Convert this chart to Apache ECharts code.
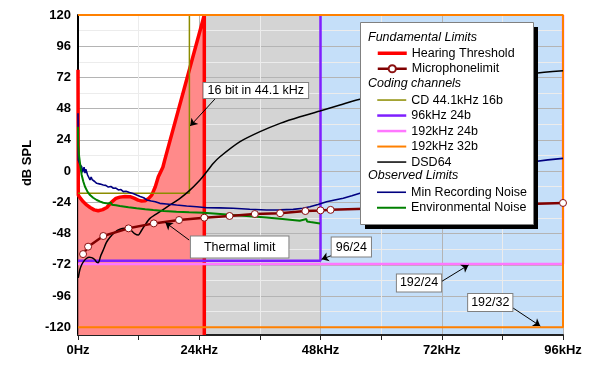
<!DOCTYPE html>
<html><head><meta charset="utf-8">
<script src="https://cdn.jsdelivr.net/npm/echarts@6/dist/echarts.min.js"></script>
<style>html,body{margin:0;padding:0;background:#fff}#c{width:600px;height:370px}</style>
</head><body><div id="c"></div>
<script>
// ---- data (x in kHz, y in dB SPL) ----
const seriesNames = ['Hearing Threshold','Microphonelimit','CD 44.1kHz 16b','96kHz 24b','192kHz 24b','192kHz 32b','DSD64','Min Recording Noise','Environmental Noise'];
const groupHeaders = ['Fundamental Limits','Coding channels','Observed Limits'];
const hearingThreshold = [[0,78],[0.06,-18.5],[0.5,-21],[1.05,-23.6],[1.7,-26],[2.4,-28],[3.2,-29.8],[4.0,-30.5],[4.9,-29.6],[5.7,-28],[6.7,-23.6],[7.5,-21],[8.3,-20],[9.3,-19.5],[10.3,-19.7],[11.1,-20.8],[11.9,-22.3],[12.6,-23],[13.3,-22.8],[14.0,-21],[14.6,-18.5],[15.3,-12],[15.9,-4.4],[16.8,3],[17.2,9],[25,120],[25,-126]];
const micX = [1,2,5,10,15,20,25,30,35,40,45,48,50,96];
const micY = [-63.8,-58.1,-49.9,-44,-40.2,-37.6,-35.8,-34.5,-33,-32.4,-30.7,-30.2,-29.8,-24.5];
const cd441 = [[0,-17],[22.05,-17],[22.05,120]];
const hr96_24 = [[0,-69],[48,-69],[48,120]];
const hr192_24 = [[0,-71.5],[96,-71.5],[96,120]];
const hr192_32 = [[0,-120],[96,-120],[96,120],[0,120]];
const dsd64 = [[0.05,-82],[0.35,-76],[0.73,-72],[1.2,-69],[1.72,-67],[2.2,-66.3],[2.71,-66.5],[3.3,-68],[3.7,-70],[4.02,-70.4],[4.5,-65],[5.0,-60.7],[5.6,-55],[6.33,-50.9],[7.3,-47],[8.31,-44.7],[9.2,-44],[9.96,-44.2],[10.5,-45.5],[11.2,-48],[11.94,-49.1],[12.6,-45.5],[13.26,-41.4],[14.25,-36.3],[16.23,-31.2],[18.21,-26],[20.19,-20.9],[21.83,-15.8],[24.15,-6.8],[25.47,-0.5],[26.8,6],[28.1,11],[32.07,22.6],[36.03,30.3],[40.0,36.7],[43.94,41.8],[47.9,46.2],[51.86,50.8],[55.17,54.7],[63.7,61],[73.6,67.5],[83.5,72.3],[90.06,75.2],[96,77.2]];
const minRecNoise = [[0,44.4],[0.03,20],[0.06,8.5],[0.4,5],[0.73,3.4],[0.9,-1],[1.05,-0.5],[1.2,3],[1.39,-1.5],[1.55,1.5],[1.72,0.8],[1.9,-3],[2.1,-2],[2.38,-6.8],[2.6,-4.5],[2.8,-6.5],[3.03,-5.5],[3.3,-8],[3.5,-7],[3.7,-9.4],[4.0,-8.5],[4.4,-10],[5.0,-10.7],[5.5,-11],[6.0,-12.3],[6.5,-11.8],[7.0,-13.2],[7.5,-13],[8.0,-14.5],[8.5,-14.2],[8.97,-15.8],[9.5,-15.5],[10.2,-16.5],[10.9,-17.2],[11.6,-18.4],[12.3,-19.5],[13.0,-20.5],[13.6,-22.2],[14.5,-23],[15.3,-23.5],[16.2,-24.8],[17.5,-25.3],[19.5,-26.1],[21.5,-26.8],[23.5,-27.4],[25.5,-28.2],[28,-28.3],[30.7,-28.6],[34,-29.3],[37.3,-29.9],[40,-29.8],[42.6,-29.4],[44.5,-28.6],[45.9,-27.4],[47.5,-25.6],[49.2,-23.5],[50.8,-22.2],[52.5,-20.9],[54.2,-19],[55.8,-17],[60,-13],[63.7,-9],[68,-5.5],[73.6,-2],[78,0.8],[83.5,3.5],[87,5.5],[90.1,7.2],[93,8.6],[96,9.8]];
const envNoise = [[0,34],[0.05,20],[0.2,12],[0.4,6],[0.73,-3],[1.05,-8],[1.39,-12],[1.9,-16],[2.38,-18.4],[3.0,-20.5],[3.7,-22.2],[4.3,-23.3],[5.0,-24.3],[6.0,-25],[6.5,-24],[6.7,-25.8],[7.5,-26.3],[8.3,-26.9],[10,-27.8],[11.6,-28.6],[13.3,-29.3],[14.9,-29.9],[17,-30.6],[19.5,-31.2],[22,-31.6],[24.8,-32],[27.5,-32.8],[30.7,-33.8],[34,-34.7],[37.3,-35.6],[40.5,-36.8],[43.9,-38.1],[45.2,-36.8],[45.35,-38.8],[46,-39.2],[47.9,-40.2]];
const regionGrey = [25,48];
const regionBlue = [48,96];
const noteTexts = ['16 bit in 44.1 kHz','Thermal limit','96/24','192/24','192/32'];
const noteAt = [[35.2,62],[32.0,-58.4],[54.1,-58.4],[67.5,-86],[81.6,-101]];
const arrowFrom = [[27.1,55.4],[22.0,-53.0],[50.5,-64.5],[71.7,-85.5],[85.9,-104.7]];
const arrowTo = [[22.2,34.7],[17.3,-39.5],[48.2,-67.8],[77.3,-72.2],[91.5,-119.1]];

const FONT = '"Liberation Sans", Arial, sans-serif';
const chart = echarts.init(document.getElementById('c'));
const micData = micX.map((x,i)=>[x,micY[i]]);
const lineWidths = {'Hearing Threshold':3.5,'Microphonelimit':2.5,'CD 44.1kHz 16b':1.5,'96kHz 24b':2.5,'192kHz 24b':2.5,'192kHz 32b':2,'DSD64':1.5,'Min Recording Noise':1.6,'Environmental Noise':2};
const line = (name, data, color, z, extra) => Object.assign({
  name, type:'line', data, showSymbol:false, symbol:'none', z, clip:false,
  lineStyle:{color, width:lineWidths[name]}, itemStyle:{color}, animation:false, silent:true
}, extra||{});
const legendItem = n => n === seriesNames[1]
  ? {name:n, lineStyle:{width:lineWidths[n]}}
  : {name:n, itemStyle:{opacity:0}, lineStyle:{width:lineWidths[n]}};
const legendBase = {orient:'vertical', left:376, padding:0, itemGap:0, itemWidth:29, itemHeight:9, selectedMode:false, z:9,
  textStyle:{fontSize:12.5, lineHeight:15.5, fontFamily:FONT, color:'#000'}};
const padsNote = [[1,4],[4,13],[3,4],[2,3],[2,3]];
chart.setOption({
  animation:false,
  grid:{left:78,right:37,top:15,bottom:35},
  xAxis:{type:'value', min:0, max:96, interval:24, z:2,
    axisLine:{onZero:false, lineStyle:{color:'#222', width:2}},
    axisTick:{show:true, length:5, lineStyle:{color:'#222'}},
    minorTick:{show:true, splitNumber:2, length:5, lineStyle:{color:'#222'}},
    axisLabel:{formatter:v=> v===0?'0Hz':v+'kHz', fontWeight:'bold', fontSize:13, color:'#000', fontFamily:FONT, margin:9},
    splitLine:{show:true, lineStyle:{color:'#b4b4b4', width:1}},
    minorSplitLine:{show:true, lineStyle:{color:'#ececec', width:1}}},
  yAxis:{type:'value', min:-126, max:120, interval:6, z:2,
    axisLine:{show:true, onZero:false, lineStyle:{color:'#000', width:2}},
    axisTick:{show:false},
    axisLabel:{formatter:v=> (v%24===0? String(v):''), fontWeight:'bold', fontSize:13, color:'#000', fontFamily:FONT, margin:7},
    splitLine:{show:true, lineStyle:{color:['rgba(0,0,0,0)','#b4b4b4','rgba(0,0,0,0)','#ececec'], width:1}},
    name:'dB SPL', nameLocation:'middle', nameGap:32, nameRotate:90,
    nameTextStyle:{fontWeight:'bold', fontSize:13, color:'#000', fontFamily:FONT, padding:[0,0,0,24]}},
  legend:[
    Object.assign({}, legendBase, {top:45.5, data:seriesNames.slice(0,2).map(legendItem)}),
    Object.assign({}, legendBase, {top:92.3, data:seriesNames.slice(2,7).map(legendItem)}),
    Object.assign({}, legendBase, {top:184.5, data:seriesNames.slice(7,9).map(legendItem)})
  ],
  graphic:{elements:[
    {type:'rect', left:365, top:27, z:7, shape:{width:173,height:202}, style:{fill:'#000'}},
    {type:'rect', left:360, top:22, z:8, shape:{width:173,height:202}, style:{fill:'#fff', stroke:'#808080', lineWidth:1}},
    {type:'text', left:368, top:31, z:9, style:{text:groupHeaders[0], font:'italic 12.5px '+FONT, fill:'#000'}},
    {type:'text', left:368, top:77, z:9, style:{text:groupHeaders[1], font:'italic 12.5px '+FONT, fill:'#000'}},
    {type:'text', left:368, top:169.5, z:9, style:{text:groupHeaders[2], font:'italic 12.5px '+FONT, fill:'#000'}}
  ]},
  series:[
    {name:'bg', type:'line', data:[], z:1, silent:true,
      markArea:{silent:true, z:1, data:[
        [{xAxis:regionGrey[0], itemStyle:{color:'#d4d4d4'}},{xAxis:regionGrey[1]}],
        [{xAxis:regionBlue[0], itemStyle:{color:'#c5dff9'}},{xAxis:regionBlue[1]}]]}},
    line(seriesNames[0], hearingThreshold, '#ff0000', 3, {areaStyle:{color:'#ff8a8a', opacity:1, origin:'start'}}),
    line(seriesNames[2], cd441, '#8c8c00', 4),
    line(seriesNames[3], hr96_24, '#7f1fff', 4),
    line(seriesNames[4], hr192_24, '#ff77ff', 4),
    line(seriesNames[5], hr192_32, '#ff8000', 4),
    line(seriesNames[6], dsd64, '#000000', 4, {smooth:0.25}),
    line(seriesNames[7], minRecNoise, '#000080', 4),
    line(seriesNames[8], envNoise, '#008000', 4),
    line(seriesNames[1], micData, '#800000', 5, {showSymbol:true, symbol:'circle', symbolSize:7,
      itemStyle:{color:'#ffffff', borderColor:'#8b1010', borderWidth:1}}),
    {name:'notes', type:'line', data:[], z:6, silent:true,
      markLine:{silent:true, z:6, symbol:['none','arrow'], symbolSize:7, animation:false,
        lineStyle:{color:'#000', width:1, type:'solid'}, label:{show:false},
        data: arrowFrom.map((f,i)=>[{coord:f},{coord:arrowTo[i]}])},
      markPoint:{silent:true, z:6, symbol:'rect', symbolSize:1, animation:false, itemStyle:{color:'rgba(0,0,0,0)'},
        label:{show:true, position:'inside', formatter:'{b}', color:'#000', fontSize:12.5, fontFamily:FONT,
          backgroundColor:'#fff', borderColor:'#808080', borderWidth:1},
        data: noteTexts.map((t,i)=>({name:t, coord:noteAt[i], label:{padding:padsNote[i]}}))}}
  ]
});
</script></body></html>
